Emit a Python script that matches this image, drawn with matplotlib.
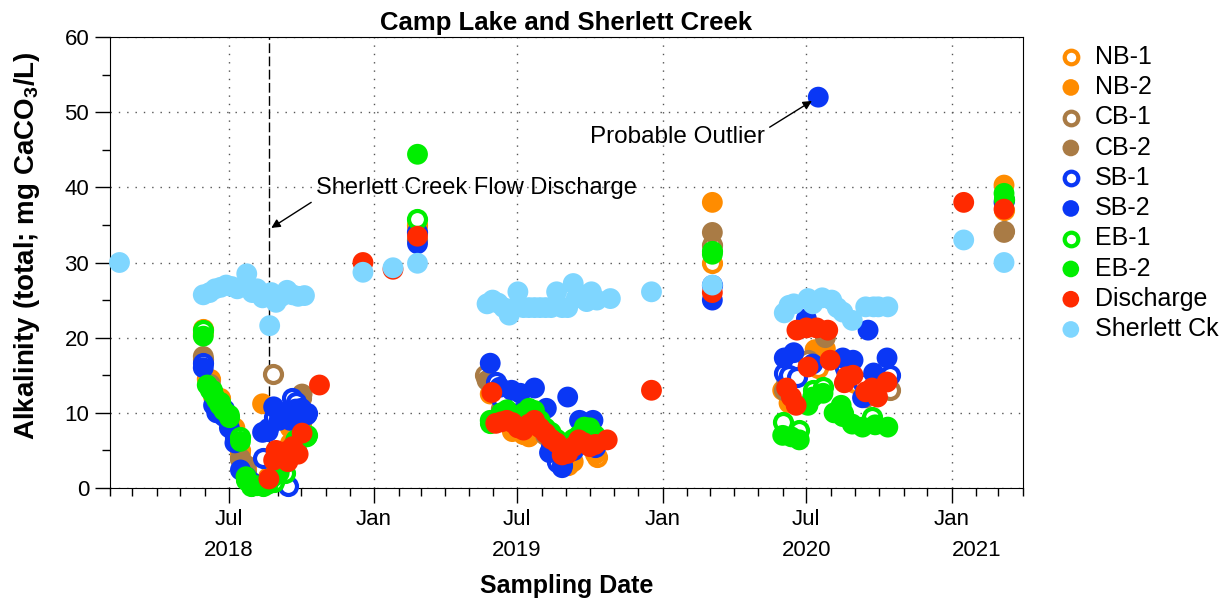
import matplotlib
matplotlib.use('Agg')
import matplotlib.pyplot as plt
import matplotlib.dates as mdates
import pandas as pd

plt.rcParams['font.family'] = ['Liberation Sans', 'DejaVu Sans']
plt.rcParams['mathtext.fontset'] = 'custom'
plt.rcParams['mathtext.rm'] = 'Liberation Sans:bold'

##### data
nb1_dates = ['2018-05-30','2018-06-08','2018-06-20','2018-07-09','2018-07-16','2018-07-23','2018-08-06','2018-08-20',
             '2018-09-03','2018-09-17','2018-10-01','2019-02-25','2019-06-11','2019-07-09','2019-08-27','2019-09-03',
             '2019-10-10','2020-03-04','2020-07-16','2020-09-01','2021-03-08']
nb1_vals = [21.2, 14.5, 12.0, 6.5, 5.0, 2.5, 0.5, 1.5, 4.0, 6.0, 8.5, 35.0, 9.0, 7.2, 4.0, 3.0, 4.1, 30.0, 16.0, 14.0, 37.0]

nb2_dates = ['2018-05-30','2018-06-04','2018-06-12','2018-06-25','2018-07-09','2018-07-16','2018-07-23','2018-08-13',
             '2018-09-17','2018-10-02','2019-02-25','2019-05-28','2019-06-25','2019-07-16','2019-08-27','2019-09-10',
             '2019-10-08','2020-03-04','2020-06-01','2020-06-09','2020-07-12','2020-07-25','2021-03-08']
nb2_vals = [20.5, 14.5, 12.1, 10.0, 8.0, 4.6, 3.0, 11.2, 8.0, 7.7, 34.8, 12.5, 7.5, 6.8, 4.0, 3.5, 4.5, 38.0, 13.0, 11.3,
            18.4, 18.5, 40.3]

cb1_dates = ['2018-05-30','2018-07-16','2018-07-23','2018-08-26','2018-10-01','2019-02-25','2019-05-21','2020-03-04',
             '2020-06-03','2020-07-03','2020-10-15','2021-03-08']
cb1_vals = [17.2, 4.0, 2.0, 15.2, 12.0, 33.0, 15.0, 32.3, 13.0, 17.0, 13.0, 34.2]

cb2_dates = ['2018-05-30','2018-06-08','2018-07-16','2018-07-23','2018-09-10','2018-10-02','2019-05-24','2019-06-11',
             '2019-08-06','2019-08-20','2019-09-24','2019-10-08','2020-03-04','2020-06-06','2020-07-25','2020-09-14',
             '2021-03-08']
cb2_vals = [17.5, 13.8, 3.8, 3.0, 4.0, 12.5, 14.3, 10.5, 7.0, 6.0, 7.5, 6.5, 34.0, 14.0, 20.0, 12.0, 34.0]

sb1_dates = ['2018-05-30','2018-06-25','2018-07-09','2018-07-23','2018-07-30','2018-08-13','2018-08-20','2018-08-27',
             '2018-09-03','2018-09-14','2018-09-19','2018-09-24','2018-10-01','2018-10-08','2019-02-25','2019-06-04',
             '2019-06-11','2019-07-02','2019-08-13','2019-08-20','2019-08-27','2019-09-10','2019-09-24','2019-10-08',
             '2020-03-04','2020-06-03','2020-06-09','2020-06-19','2020-08-19','2020-09-10','2020-10-15','2021-03-08']
sb1_vals = [16.6, 10.5, 6.8, 1.5, 0.5, 4.0, 8.0, 9.5, 10.0, 0.2, 12.0, 11.5, 10.5, 10.0, 34.0, 14.1, 12.0, 10.0, 5.5,
            3.5, 3.0, 5.0, 7.5, 5.5, 27.0, 15.3, 15.0, 14.8, 16.0, 14.0, 15.0, 38.3]

sb2_dates = ['2018-05-30','2018-06-12','2018-06-16','2018-06-25','2018-07-02','2018-07-09','2018-07-16','2018-07-23',
             '2018-07-30','2018-08-13','2018-08-20','2018-08-27','2018-09-03','2018-09-10','2018-09-17','2018-09-24',
             '2018-10-01','2018-10-08','2019-02-25','2019-05-28','2019-06-09','2019-06-24','2019-07-05','2019-07-23',
             '2019-08-07','2019-08-11','2019-08-27','2019-09-03','2019-09-18','2019-10-05','2020-03-04','2020-06-03',
             '2020-06-15','2020-07-01','2020-07-09','2020-07-16','2020-08-16','2020-08-29','2020-09-10','2020-09-17',
             '2020-09-24','2020-10-11','2021-03-08']
sb2_vals = [16.0, 11.0, 10.0, 9.5, 8.0, 6.0, 2.4, 1.5, 0.8, 7.4, 7.5, 10.8, 9.0, 10.0, 9.0, 10.5, 10.6, 9.7, 32.5,
            16.6, 13.4, 13.0, 12.6, 13.3, 10.6, 4.7, 2.7, 12.1, 9.0, 9.0, 25.0, 17.3, 18.0, 22.5, 16.5, 52.0, 17.3,
            17.0, 12.0, 21.0, 15.3, 17.3, 38.0]

eb1_dates = ['2018-05-30','2018-06-10','2018-06-20','2018-07-02','2018-07-16','2018-07-23','2018-07-30','2018-08-13',
             '2018-08-27','2018-09-10','2018-09-24','2018-10-08','2019-02-25','2019-05-28','2019-06-18','2019-07-09',
             '2019-08-13','2019-09-24','2019-10-08','2020-03-04','2020-06-01','2020-06-22','2020-07-09','2020-07-22',
             '2020-08-16','2020-09-22','2021-03-08']
eb1_vals = [21.0, 13.0, 11.5, 9.5, 6.8, 1.0, 0.3, 0.2, 0.8, 2.0, 5.0, 7.0, 35.8, 8.6, 10.0, 9.6, 7.0, 7.6, 6.8, 31.5,
            8.8, 7.7, 13.0, 13.4, 10.0, 9.4, 38.5]

eb2_dates = ['2018-05-30','2018-06-04','2018-06-08','2018-06-12','2018-06-16','2018-06-20','2018-06-25','2018-07-02',
             '2018-07-16','2018-07-23','2018-07-30','2018-08-06','2018-08-13','2018-08-20','2018-08-27','2018-09-03',
             '2018-09-10','2018-09-17','2018-09-24','2018-10-01','2018-10-08','2019-02-25','2019-05-28','2019-06-04',
             '2019-06-11','2019-06-18','2019-06-25','2019-07-02','2019-07-09','2019-07-16','2019-07-23','2019-07-30',
             '2019-08-06','2019-08-13','2019-08-20','2019-08-27','2019-09-03','2019-09-10','2019-09-17','2019-09-24',
             '2019-10-01','2019-10-08','2020-03-04','2020-06-01','2020-06-12','2020-06-22','2020-07-03','2020-07-09',
             '2020-07-22','2020-08-05','2020-08-14','2020-08-16','2020-08-28','2020-09-10','2020-09-26','2020-10-12',
             '2021-03-08']
eb2_vals = [20.2, 13.7, 13.0, 12.4, 11.7, 11.0, 10.3, 9.7, 6.2, 1.5, 0.5, 0.3, 0.3, 0.5, 1.5, 2.0, 3.3, 4.5, 6.4, 7.0,
            6.8, 44.4, 9.0, 8.7, 10.0, 10.4, 9.5, 9.5, 10.0, 10.6, 10.3, 9.0, 8.0, 7.4, 6.5, 6.0, 5.5, 6.5, 7.0, 8.1,
            8.0, 7.0, 31.1, 7.0, 6.8, 6.4, 11.0, 12.1, 12.6, 10.0, 11.0, 9.5, 8.5, 8.1, 8.4, 8.1, 39.2]

dis_dates = ['2018-08-21','2018-08-27','2018-08-30','2018-09-06','2018-09-10','2018-09-14','2018-09-20','2018-09-27',
             '2018-10-02','2018-10-24','2018-12-18','2019-01-25','2019-02-25','2019-05-30','2019-06-04','2019-06-11',
             '2019-06-18','2019-06-25','2019-07-02','2019-07-09','2019-07-16','2019-07-23','2019-07-30','2019-08-06',
             '2019-08-13','2019-08-20','2019-08-27','2019-09-03','2019-09-10','2019-09-17','2019-09-24','2019-10-01',
             '2019-10-08','2019-10-23','2019-12-18','2020-03-04','2020-06-06','2020-06-12','2020-06-18','2020-06-19',
             '2020-07-01','2020-07-03','2020-07-14','2020-07-28','2020-07-31','2020-08-18','2020-08-21','2020-08-29',
             '2020-09-14','2020-09-22','2020-09-29','2020-10-11','2021-01-16','2021-03-08']
dis_vals = [1.2, 3.7, 5.0, 4.1, 4.8, 3.5, 5.5, 4.5, 7.3, 13.7, 30.0, 29.1, 33.5, 12.7, 8.6, 8.8, 9.0, 8.7, 8.0, 7.7,
            8.5, 9.0, 8.0, 7.3, 6.5, 6.0, 4.4, 4.6, 5.5, 6.4, 6.0, 5.5, 5.8, 6.4, 13.0, 26.0, 13.3, 12.1, 11.0, 21.0,
            21.3, 16.1, 21.3, 21.0, 17.0, 14.0, 14.8, 15.0, 12.8, 13.3, 12.1, 14.1, 38.0, 37.1]

sck_dates = ['2018-02-13','2018-05-30','2018-06-07','2018-06-14','2018-06-21','2018-06-28','2018-07-05','2018-07-12',
             '2018-07-24','2018-07-31','2018-08-06','2018-08-13','2018-08-22','2018-08-24','2018-08-30','2018-09-06',
             '2018-09-13','2018-09-20','2018-09-27','2018-10-05','2018-12-18','2019-01-25','2019-02-25','2019-05-24',
             '2019-05-31','2019-06-07','2019-06-14','2019-06-21','2019-06-28','2019-07-02','2019-07-09','2019-07-16',
             '2019-07-23','2019-07-30','2019-08-06','2019-08-13','2019-08-20','2019-08-27','2019-09-03','2019-09-10',
             '2019-09-14','2019-09-20','2019-09-27','2019-10-03','2019-10-10','2019-10-27','2019-12-18','2020-03-04',
             '2020-06-03','2020-06-09','2020-06-15','2020-07-03','2020-07-09','2020-07-21','2020-08-02','2020-08-09',
             '2020-08-16','2020-08-28','2020-09-14','2020-09-24','2020-09-30','2020-10-12','2021-01-16','2021-03-08']
sck_vals = [30.0, 25.7, 26.0, 26.5, 26.7, 27.0, 26.8, 26.5, 28.5, 26.0, 26.5, 25.3, 21.6, 26.0, 24.7, 25.5, 26.3, 25.7,
            25.5, 25.6, 28.7, 29.3, 29.9, 24.5, 25.0, 24.6, 24.0, 23.0, 24.0, 26.1, 24.0, 24.0, 24.0, 24.0, 24.0, 24.0,
            26.1, 24.0, 24.0, 27.2, 25.3, 25.7, 24.8, 26.1, 25.0, 25.2, 26.1, 27.0, 23.3, 24.3, 24.5, 25.2, 24.5, 25.3,
            25.0, 24.0, 23.4, 22.3, 24.1, 24.1, 24.1, 24.1, 33.0, 30.0]

discharge_date = '2018-08-21'

orange = '#ff8c00'
brown = '#a97b45'
blue = '#0a37f5'
green = '#00ee00'
red = '#ff2a00'
sky = '#7fd6ff'

series = [
    ('NB-1', nb1_dates, nb1_vals, orange, True),
    ('NB-2', nb2_dates, nb2_vals, orange, False),
    ('CB-1', cb1_dates, cb1_vals, brown, True),
    ('CB-2', cb2_dates, cb2_vals, brown, False),
    ('SB-1', sb1_dates, sb1_vals, blue, True),
    ('SB-2', sb2_dates, sb2_vals, blue, False),
    ('EB-1', eb1_dates, eb1_vals, green, True),
    ('EB-2', eb2_dates, eb2_vals, green, False),
    ('Discharge', dis_dates, dis_vals, red, False),
    ('Sherlett Ck', sck_dates, sck_vals, sky, False),
]

fig = plt.figure(figsize=(12.25, 6.02), dpi=100)
ax = fig.add_axes([0.0898, 0.1894, 0.7453, 0.7491])

for name, d, v, c, hollow in series:
    if hollow:
        ax.scatter(pd.to_datetime(d), v, s=150, facecolors='white', edgecolors=c, linewidths=3.0,
                   label=name, zorder=3, clip_on=False)
    else:
        ax.scatter(pd.to_datetime(d), v, s=225, c=c, edgecolors='none', label=name, zorder=3, clip_on=False)

ax.axvline(pd.Timestamp(discharge_date), color='black', linewidth=1.0, linestyle=(0, (7, 2.5)), zorder=2)

ax.annotate('Sherlett Creek Flow Discharge', xy=(pd.Timestamp('2018-08-24'), 34.6),
            xytext=(pd.Timestamp('2018-10-20'), 39.9), fontsize=17, va='center', ha='left',
            arrowprops=dict(arrowstyle='-|>', color='black', lw=1.0, shrinkA=2, shrinkB=0,
                            mutation_scale=13, relpos=(0.0, 0.0)))
ax.annotate('Probable Outlier', xy=(pd.Timestamp('2020-07-08'), 51.5),
            xytext=(pd.Timestamp('2020-05-09'), 46.7), fontsize=17.5, va='center', ha='right',
            arrowprops=dict(arrowstyle='-|>', color='black', lw=1.0, shrinkA=2, shrinkB=0,
                            mutation_scale=13, relpos=(1.0, 0.8)))

ax.set_xlim(pd.Timestamp('2018-02-01'), pd.Timestamp('2021-04-01'))
ax.set_ylim(0, 60)
ax.set_yticks(range(0, 61, 10))
ax.set_yticks(range(5, 60, 10), minor=True)
ax.xaxis.set_major_locator(mdates.MonthLocator(bymonth=[1, 7]))
ax.xaxis.set_minor_locator(mdates.MonthLocator())
ax.xaxis.set_major_formatter(mdates.DateFormatter('%b'))
ax.tick_params(which='major', length=11, width=1, labelsize=16, direction='out')
ax.tick_params(which='minor', length=5.5, width=1, direction='out')
ax.tick_params(axis='x', which='major', pad=4)
ax.tick_params(axis='y', which='major', pad=4)
ax.grid(which='major', color='#555555', linestyle=(0, (1, 5)), linewidth=1)

for yr, d in [('2018', '2018-07-01'), ('2019', '2019-07-01'), ('2020', '2020-07-01'), ('2021', '2021-02-01')]:
    ax.text(pd.Timestamp(d), -0.139, yr, transform=ax.get_xaxis_transform(), ha='center', va='center', fontsize=16)

ax.set_title('Camp Lake and Sherlett Creek', fontsize=18.5, fontweight='bold', pad=5)
ax.set_xlabel('Sampling Date', fontsize=18, fontweight='bold', labelpad=32)
ax.set_ylabel('Alkalinity (total; mg CaCO$_3$/L)', fontsize=20, fontweight='bold')
ax.yaxis.set_label_coords(-0.074, 0.537)

ax.legend(loc='upper left', bbox_to_anchor=(1.025, 1.005), frameon=False, fontsize=18, markerscale=0.8,
          handlelength=1.2, handletextpad=0.36, labelspacing=0.25, borderaxespad=0)

plt.savefig('out.png', dpi=100)
